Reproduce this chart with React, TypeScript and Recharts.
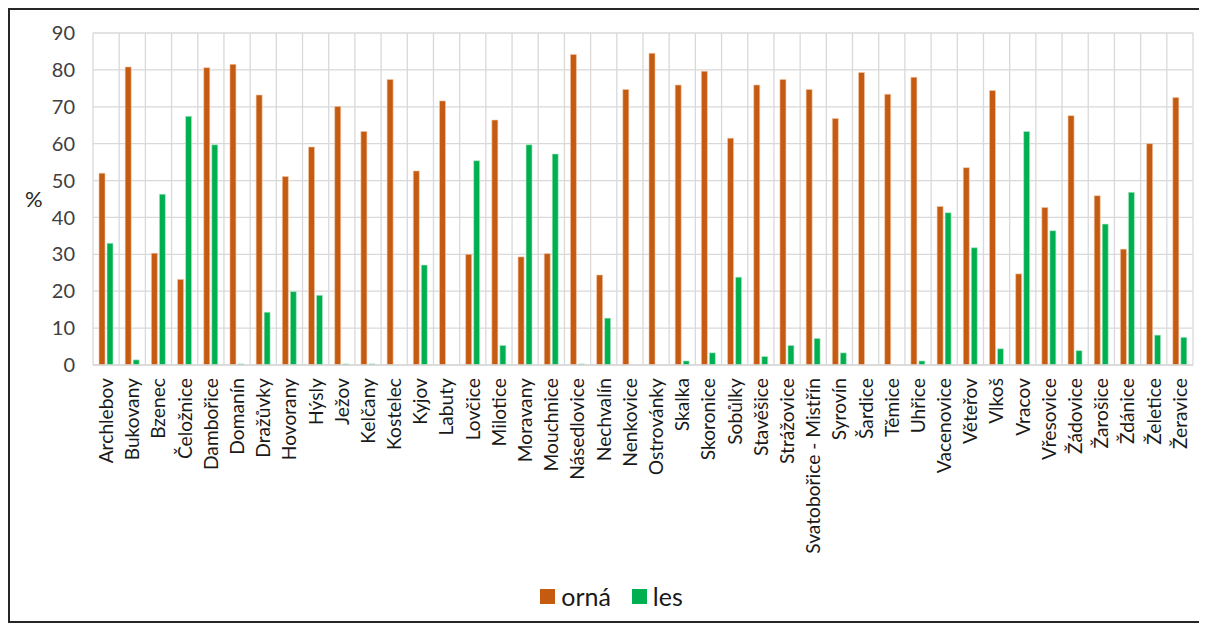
import React from "react";
import { BarChart, Bar, XAxis, YAxis, CartesianGrid, Legend } from "recharts";

const categories = [
  "Archlebov", "Bukovany", "Bzenec", "Čeložnice", "Dambořice", "Domanín", "Dražůvky", "Hovorany",
  "Hýsly", "Ježov", "Kelčany", "Kostelec", "Kyjov", "Labuty", "Lovčice", "Milotice", "Moravany",
  "Mouchnice", "Násedlovice", "Nechvalín", "Nenkovice", "Ostrovánky", "Skalka", "Skoronice",
  "Sobůlky", "Stavěšice", "Strážovice", "Svatobořice - Mistřín", "Syrovín", "Šardice", "Těmice",
  "Uhřice", "Vacenovice", "Věteřov", "Vlkoš", "Vracov", "Vřesovice", "Žádovice", "Žarošice",
  "Ždánice", "Želetice", "Žeravice",
];

const orna = [
  52, 80.8, 30.3, 23.2, 80.6, 81.5, 73.2, 51.1, 59.1, 70.1, 63.3, 77.4, 52.6, 71.6, 30, 66.4,
  29.3, 30.2, 84.2, 24.4, 74.7, 84.5, 75.9, 79.6, 61.5, 75.9, 77.4, 74.7, 66.8, 79.3, 73.4, 78,
  43, 53.5, 74.4, 24.7, 42.7, 67.6, 45.9, 31.4, 60, 72.5,
];

const les = [
  33, 1.4, 46.3, 67.4, 59.7, 0.3, 14.3, 19.9, 18.9, 0.3, 0.3, 0, 27.1, 0, 55.4, 5.3, 59.7, 57.2,
  0.3, 12.7, 0, 0, 1.1, 3.3, 23.8, 2.3, 5.3, 7.2, 3.3, 0, 0, 1.1, 41.3, 31.8, 4.4, 63.3, 36.4,
  3.9, 38.2, 46.8, 8.1, 7.5,
];

const yTicks = [0, 10, 20, 30, 40, 50, 60, 70, 80, 90];

const seriesKeys = ["orna", "les"];
const seriesNames = { orna: "orná", les: "les" };
const colors = { orna: "#C55A11", les: "#00B050" };

const data = categories.map((name, i) => ({ name, orna: orna[i], les: les[i] }));

const FONT = "Lato, 'Open Sans', sans-serif";

const XTick = (props: any) => {
  const { x, y, payload } = props;
  return (
    <text
      transform={`translate(${x},${y}) rotate(-90)`}
      x={-13}
      y={0}
      dy="0.36em"
      textAnchor="end"
      fontSize={19.2}
      fontFamily={FONT}
      fill="#1a1a1a"
    >
      {payload.value}
    </text>
  );
};

const verticalGen = (props: any) => {
  const { xAxis, offset } = props;
  const n = categories.length;
  const scale = xAxis && xAxis.scale;
  try {
    if (scale && typeof scale.bandwidth === "function") {
      const bw = scale.bandwidth();
      const call = (c: string) =>
        typeof scale === "function" ? scale(c) : typeof scale.map === "function" ? scale.map(c) : undefined;
      const xs = categories.map((c) => call(c));
      if (xs.every((v) => typeof v === "number" && isFinite(v))) {
        const out = xs as number[];
        out.push(out[out.length - 1] + bw);
        return out;
      }
    }
  } catch (e) {
    // fall through
  }
  const xs: number[] = [];
  for (let i = 0; i <= n; i++) xs.push(offset.left + (offset.width * i) / n);
  return xs;
};

const LegendContent = (props: any) => {
  const payload = [...(props.payload || [])].sort(
    (a: any, b: any) => seriesKeys.indexOf(a.dataKey) - seriesKeys.indexOf(b.dataKey)
  );
  return (
    <div
      style={{
        display: "flex",
        justifyContent: "center",
        alignItems: "center",
        height: 30,
        paddingLeft: 20,
        fontFamily: FONT,
        fontSize: 25,
        color: "#1a1a1a",
      }}
    >
      {payload.map((p: any, i: number) => (
        <div key={i} style={{ display: "flex", alignItems: "center", marginRight: i === 0 ? 21 : 0 }}>
          <span style={{ display: "inline-block", width: 15, height: 15, background: p.color, marginRight: 6 }} />
          <span>{p.value}</span>
        </div>
      ))}
    </div>
  );
};

export default function App() {
  return (
    <div
      style={{
        width: 1189,
        height: 611,
        border: "2px solid #262626",
        background: "#fff",
        position: "relative",
      }}
    >
      <BarChart
        width={1189}
        height={611}
        data={data}
        margin={{ top: 23, right: 6, bottom: 10, left: 0 }}
        barCategoryGap={6}
        barGap={2}
      >
        <CartesianGrid stroke="#D9D9D9" strokeWidth={1.3} verticalCoordinatesGenerator={verticalGen} />
        <XAxis
          dataKey="name"
          interval={0}
          height={216}
          tick={<XTick />}
          tickLine={false}
          tickSize={0}
          tickMargin={0}
          axisLine={{ stroke: "#D9D9D9", strokeWidth: 1.5 }}
        />
        <YAxis
          width={83}
          domain={[0, 90]}
          ticks={yTicks}
          interval={0}
          tickLine={false}
          tickSize={0}
          tickMargin={18}
          axisLine={false}
          tick={{ fontSize: 20, fontFamily: FONT, fill: "#404040" }}
          label={{ value: "%", position: "insideLeft", offset: 15, fontSize: 22, fontFamily: FONT, fill: "#262626" }}
        />
        <Legend verticalAlign="bottom" itemSorter={null as any} content={<LegendContent />} wrapperStyle={{ bottom: 10 }} />
        <Bar dataKey="orna" name={seriesNames.orna} fill={colors.orna} stroke="#F2C7A8" strokeWidth={0.6} isAnimationActive={false} />
        <Bar dataKey="les" name={seriesNames.les} fill={colors.les} stroke="#B8EBCB" strokeWidth={0.6} isAnimationActive={false} />
      </BarChart>
    </div>
  );
}
